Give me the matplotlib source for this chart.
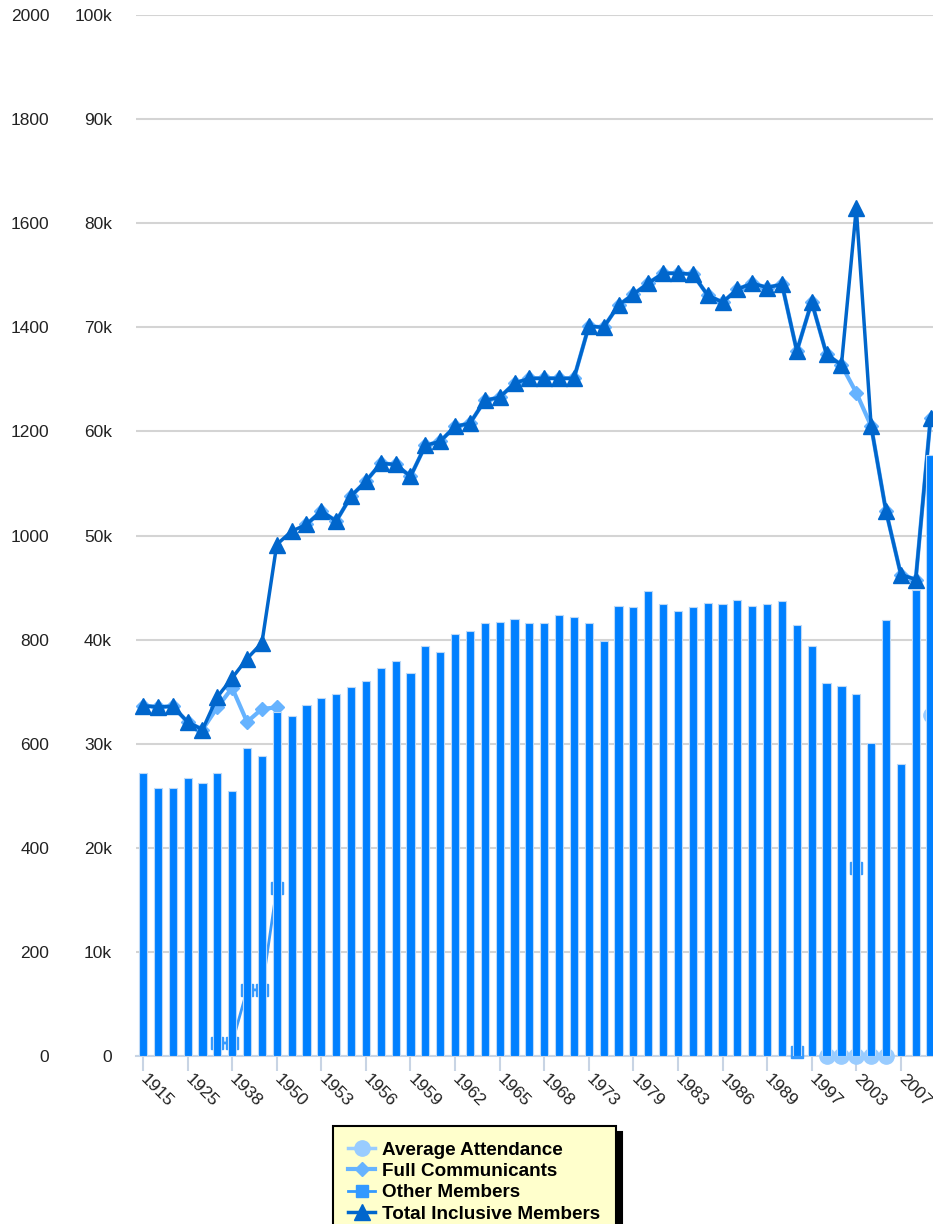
import numpy as np
import matplotlib
matplotlib.use("Agg")
import matplotlib.pyplot as plt
from matplotlib.ticker import FuncFormatter

# categories (one per report year shown on the chart)
YEARS = [1915, 1918, 1920, 1925, 1930, 1935, 1938, 1940, 1945, 1950, 1951, 1952,
         1953, 1954, 1955, 1956, 1957, 1958, 1959, 1960, 1961, 1962, 1963, 1964,
         1965, 1966, 1967, 1968, 1969, 1971, 1973, 1975, 1977, 1979, 1980, 1982,
         1983, 1984, 1985, 1986, 1987, 1988, 1989, 1990, 1995, 1997, 1999, 2001,
         2003, 2004, 2005, 2007, 2008, 2009]

# members axis (0 - 100k)
AVERAGE_ATTENDANCE = [None] * 46 + [0, 0, 0, 0, 0, None, None, 32800]

FULL_COMMUNICANTS = [33650, 33530, 33590, 32090, 31350, 33490, 35360, 32090, 33340, 33490,
                     None, 51060, 52340, 51380, 53780, 55220, 56920, 56830, 55670, 58650,
                     59040, 60480, 60770, 62980, 63270, 64620, 65100, 65100, 65100, 65100,
                     70100, 70000, 72120, 73170, 74230, 75190, 75190, 75100, 73080, 72400,
                     73650, 74230, 73820, 74130, 67720, 72430, 67400, 66380, 63720, 60510,
                     52340, 46250, 45770, 61320]

OTHER_MEMBERS = ([None] * 5 + [1250, 1250, 6350, 6350, 16150] + [None] * 34
                 + [400, None, None, None, 18100] + [None] * 5)

TOTAL_INCLUSIVE = [33650, 33530, 33590, 32090, 31350, 34490, 36320, 38170, 39680, 49130,
                   50410, 51060, 52340, 51380, 53780, 55220, 56920, 56830, 55670, 58650,
                   59040, 60480, 60770, 62980, 63270, 64620, 65100, 65100, 65100, 65100,
                   70100, 70000, 72120, 73170, 74230, 75190, 75190, 75100, 73080, 72400,
                   73650, 74230, 73820, 74130, 67720, 72430, 67400, 66380, 81440, 60510,
                   52340, 46250, 45770, 61320]

# bar series on the 0 - 2000 axis
CONGREGATIONS = [543, 514, 514, 534, 524, 543, 509, 591, 576, 660,
                 653, 674, 687, 696, 708, 721, 745, 758, 735, 788,
                 776, 810, 816, 831, 834, 840, 831, 831, 847, 843,
                 831, 797, 865, 862, 893, 868, 855, 862, 871, 868,
                 877, 865, 868, 874, 828, 788, 717, 711, 695, 601,
                 837, 561, 895, 1155]

W, H = 933, 1224


def k_format(v, pos):
    return "0" if v == 0 else f"{int(v / 1000)}k"


def plot_members(ax, x):
    ax.plot(x, np.array(AVERAGE_ATTENDANCE, dtype=float), color="#99ccff", marker="o",
            ms=11, lw=2.5, label="Average Attendance", clip_on=False, zorder=3)
    ax.plot(x, np.array(FULL_COMMUNICANTS, dtype=float), color="#66b3ff", marker="D",
            ms=7.5, lw=3, label="Full Communicants", clip_on=False, zorder=3)
    ax.plot(x, np.array(OTHER_MEMBERS, dtype=float), color="#3399ff", marker="s",
            ms=9, lw=2, label="Other Members", clip_on=False, zorder=3)
    ax.plot(x, np.array(TOTAL_INCLUSIVE, dtype=float), color="#0066cc", marker="^",
            ms=11, lw=2.5, label="Total Inclusive Members", clip_on=False, zorder=4)


def main():
    plt.rcParams["font.family"] = ["Liberation Sans", "DejaVu Sans"]
    plt.rcParams["font.size"] = 12.5

    fig = plt.figure(figsize=(W / 100, H / 100), dpi=100)
    left = 135.6
    ax = fig.add_axes([left / W, 1 - 1056 / H, (W - left) / W, (1056 - 15) / H])
    ax2 = ax.twinx()
    x = np.arange(len(YEARS))

    plot_members(ax, x)
    bars = ax2.bar(x, CONGREGATIONS, width=0.55, color="#0080ff", edgecolor="#bcd9f7",
                   linewidth=0.8, label="Congregations")

    ax.set_xlim(-0.5, (W - 143) / 14.86)
    ax.set_ylim(0, 100000)
    ax2.set_ylim(0, 2000)
    ax.set_yticks(range(0, 100001, 10000))
    ax2.set_yticks(range(0, 2001, 200))
    ax.yaxis.set_major_formatter(FuncFormatter(k_format))
    ax.yaxis.grid(True, color="#d4d4d4", lw=1.5)
    ax.set_axisbelow(True)

    ax2.yaxis.set_ticks_position("left")
    ax2.yaxis.set_label_position("left")
    ax.tick_params(axis="y", length=0, pad=17, labelcolor="#222222")
    ax2.tick_params(axis="y", length=0, pad=62, labelcolor="#222222")

    for a in (ax, ax2):
        for s in a.spines.values():
            s.set_visible(False)
    ax.spines["bottom"].set_visible(True)
    ax.spines["bottom"].set_color("#c8d4e4")
    ax.spines["bottom"].set_linewidth(1.5)

    ax.set_xticks(x[::3])
    ax.set_xticklabels(YEARS[::3])
    ax.tick_params(axis="x", length=11, width=1.5, color="#c8d4e4", pad=4, labelcolor="#222222")
    for lbl in ax.get_xticklabels():
        lbl.set_rotation(-45)
        lbl.set_ha("left")
        lbl.set_va("center")
        lbl.set_rotation_mode("anchor")

    # legend runs past the bottom edge, as in the original
    handles = list(ax.get_lines()) + [bars]
    labels = [h.get_label() for h in handles]
    leg = fig.legend(handles, labels, loc="upper left",
                     bbox_to_anchor=(333 / W, 1 - 1126 / H), borderaxespad=0,
                     prop={"weight": "bold", "size": 13.6}, facecolor="#ffffcc",
                     edgecolor="black", framealpha=1, fancybox=False,
                     shadow={"ox": 4, "oy": -4, "color": "black", "alpha": 1},
                     borderpad=0.82, labelspacing=0.22, handlelength=1.4, handletextpad=0.4)
    leg.get_frame().set_linewidth(1.5)

    fig.savefig("out.png", dpi=100)


if __name__ == "__main__":
    main()
